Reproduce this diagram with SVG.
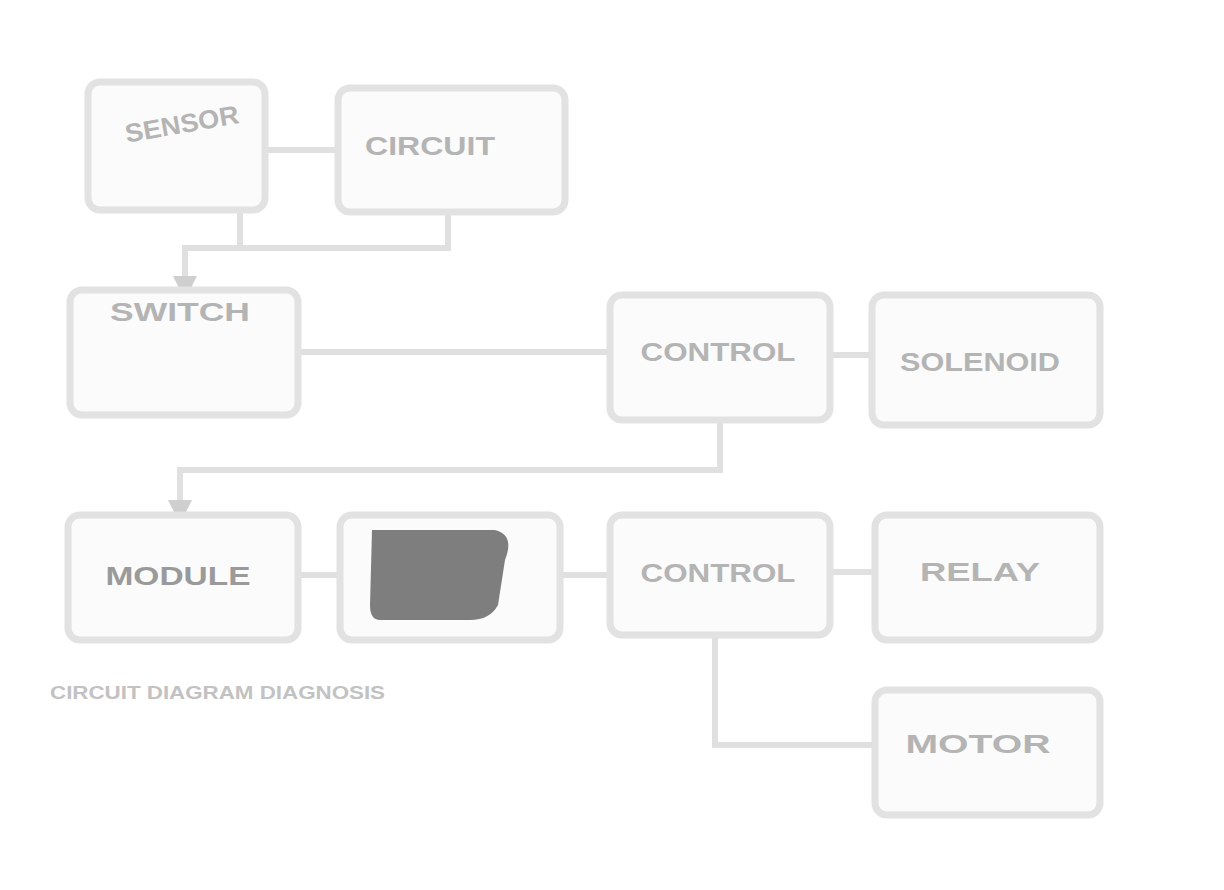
<svg xmlns="http://www.w3.org/2000/svg" width="1224" height="890" viewBox="0 0 1224 890">
<style>
.box{fill:#fbfbfb;stroke:#e2e2e2;stroke-width:7}
.lbl{font-family:"Liberation Sans",Arial,sans-serif;font-weight:bold;font-size:26px;fill:#b4b4b4;text-anchor:middle}
.con{fill:none;stroke:#e0e0e0;stroke-width:6}
.cap{font-family:"Liberation Sans",Arial,sans-serif;font-weight:bold;font-size:18px;fill:#c2c2c2}
</style>
<defs>
<marker id="ah" viewBox="0 0 10 10" refX="5" refY="5" markerWidth="4" markerHeight="4" orient="auto"><path d="M0,0 L10,5 L0,10 z" fill="#cfcfcf"/></marker>
</defs>
<rect width="1224" height="890" fill="#ffffff"/>
<g id="connectors">
<path class="con" d="M265,150 L338,150"/>
<path class="con" d="M240,210 L240,248"/>
<path class="con" d="M448,212 L448,248 L185,248 L185,288" marker-end="url(#ah)"/>
<path class="con" d="M298,352 L610,352"/>
<path class="con" d="M830,355 L872,355"/>
<path class="con" d="M720,420 L720,470 L180,470 L180,512" marker-end="url(#ah)"/>
<path class="con" d="M298,575 L340,575"/>
<path class="con" d="M560,575 L610,575"/>
<path class="con" d="M830,572 L875,572"/>
<path class="con" d="M715,635 L715,745 L875,745"/>
</g>
<g id="node-a"><rect class="box" x="88" y="82" width="177" height="128" rx="12"/><text class="lbl" x="182" y="133" textLength="115" lengthAdjust="spacingAndGlyphs" transform="rotate(-10 182 125)">SENSOR</text></g>
<g id="node-b"><rect class="box" x="338" y="88" width="227" height="124" rx="12"/><text class="lbl" x="430" y="155" textLength="130" lengthAdjust="spacingAndGlyphs">CIRCUIT</text></g>
<g id="node-c"><rect class="box" x="70" y="290" width="228" height="125" rx="12"/><text class="lbl" x="180" y="321" textLength="140" lengthAdjust="spacingAndGlyphs">SWITCH</text></g>
<g id="node-d"><rect class="box" x="610" y="295" width="220" height="125" rx="12"/><text class="lbl" x="718" y="361" textLength="155" lengthAdjust="spacingAndGlyphs">CONTROL</text></g>
<g id="node-e"><rect class="box" x="872" y="295" width="228" height="130" rx="12"/><text class="lbl" x="980" y="371" textLength="160" lengthAdjust="spacingAndGlyphs">SOLENOID</text></g>
<g id="node-f"><rect class="box" x="68" y="515" width="230" height="125" rx="12"/><text class="lbl" x="178" y="585" textLength="145" lengthAdjust="spacingAndGlyphs" style="fill:#9a9a9a">MODULE</text></g>
<g id="node-g"><rect class="box" x="340" y="515" width="220" height="125" rx="12"/><path d="M372,530 L495,530 Q515,535 505,560 L498,605 Q490,620 470,620 L380,620 Q370,620 370,605 Z" fill="#7e7e7e"/></g>
<g id="node-h"><rect class="box" x="610" y="515" width="220" height="120" rx="12"/><text class="lbl" x="718" y="582" textLength="155" lengthAdjust="spacingAndGlyphs">CONTROL</text></g>
<g id="node-i"><rect class="box" x="875" y="515" width="225" height="125" rx="12"/><text class="lbl" x="980" y="581" textLength="120" lengthAdjust="spacingAndGlyphs">RELAY</text></g>
<g id="node-j"><rect class="box" x="875" y="690" width="225" height="125" rx="12"/><text class="lbl" x="978" y="753" textLength="145" lengthAdjust="spacingAndGlyphs">MOTOR</text></g>
<text class="cap" x="50" y="699" textLength="335" lengthAdjust="spacingAndGlyphs">CIRCUIT DIAGRAM DIAGNOSIS</text>
</svg>
